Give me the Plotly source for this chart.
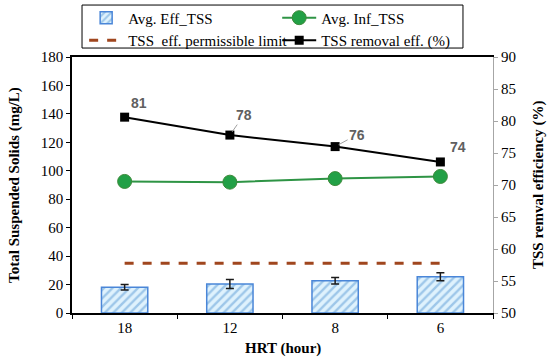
import plotly.graph_objects as go

hrt = ["18", "12", "8", "6"]
eff_tss = [18.1, 20.4, 22.7, 25.5]
eff_err = [1.9, 3.1, 2.3, 2.8]
inf_tss = [92.5, 92.0, 94.5, 96.0]
limit_tss = [35, 35, 35, 35]
removal = [80.6, 77.8, 76.0, 73.6]
removal_labels = ["81", "78", "76", "74"]

serif = "Liberation Serif"
fs = 15

fig = go.Figure()
fig.add_trace(go.Bar(
    x=hrt, y=eff_tss, name="Avg. Eff_TSS", width=0.44, legend="legend",
    marker=dict(color="#dcefff", line=dict(color="#4a86d8", width=1.5),
                pattern=dict(shape="/", fgcolor="#5b9bd5", bgcolor="#dff2fd", size=6, solidity=0.4)),
    error_y=dict(type="data", array=eff_err, color="#1a1a1a", thickness=1.5, width=4),
))
fig.add_trace(go.Scatter(
    x=hrt, y=inf_tss, name="Avg. Inf_TSS", mode="lines+markers", legend="legend2",
    line=dict(color="#2e9445", width=2),
    marker=dict(symbol="circle", size=14, color="#22a046", line=dict(color="#3d8a3a", width=1)),
))
fig.add_trace(go.Scatter(
    x=hrt, y=limit_tss, name="TSS  eff. permissible limit", mode="lines", legend="legend",
    line=dict(color="#a0461e", width=3, dash="dash"),
))
fig.add_trace(go.Scatter(
    x=hrt, y=removal, name="TSS removal eff. (%)", mode="lines+markers", yaxis="y2", legend="legend2",
    line=dict(color="#000000", width=2),
    marker=dict(symbol="square", size=9, color="#000000"),
))

offsets = [(14, -14, False), (14, -20, True), (22, -12, True), (18, -15, False)]
for i, (yv, lab, (dx, dy, arrow)) in enumerate(zip(removal, removal_labels, offsets)):
    if arrow:
        fig.add_annotation(x=i, y=yv, xref="x", yref="y2", text="<b>%s</b>" % lab,
                           showarrow=True, ax=dx, ay=dy, arrowhead=0, arrowwidth=1,
                           arrowcolor="#a0a0a0", standoff=4,
                           font=dict(family="Liberation Sans", size=14, color="#606060"))
    else:
        fig.add_annotation(x=i, y=yv, xref="x", yref="y2", text="<b>%s</b>" % lab,
                           showarrow=False, xshift=dx, yshift=-dy,
                           font=dict(family="Liberation Sans", size=14, color="#606060"))

# axis titles as annotations
title_font = dict(family=serif, size=fs, color="#000000")
fig.add_annotation(text="<b>HRT (hour)</b>", xref="paper", yref="paper", x=0.5, y=-0.137,
                   showarrow=False, font=title_font, xanchor="center", yanchor="middle")
fig.add_annotation(text="<b>Total Suspended Solids (mg/L)</b>", xref="paper", yref="paper",
                   x=-0.138, y=0.5, textangle=-90, showarrow=False, font=title_font,
                   xanchor="center", yanchor="middle")
fig.add_annotation(text="<b>TSS remval efficiency (%)</b>", xref="paper", yref="paper",
                   x=1.107, y=0.5, textangle=-90, showarrow=False, font=title_font,
                   xanchor="center", yanchor="middle")

# legend frame
fig.add_shape(type="rect", xref="paper", yref="paper", x0=0.0238, x1=0.9287, y0=1.035, y1=1.203,
              line=dict(color="#000000", width=1), fillcolor="rgba(0,0,0,0)")

legend_common = dict(orientation="v", yanchor="top", xanchor="left", bgcolor="rgba(0,0,0,0)",
                     xref="container", yref="container",
                     borderwidth=0, font=dict(family=serif, size=fs), tracegroupgap=0, itemwidth=34)

fig.update_layout(
    width=550, height=359,
    margin=dict(l=72, r=57, t=57, b=46, autoexpand=False),
    paper_bgcolor="white", plot_bgcolor="white",
    font=dict(family=serif, size=fs, color="#000000"),
    showlegend=True,
    legend=dict(x=0.153, y=0.996, **legend_common),
    legend2=dict(x=0.504, y=0.996, **legend_common),
    xaxis=dict(
        type="category", range=[-0.5, 3.5],
        showline=True, linecolor="#000000", linewidth=1.5, mirror=True,
        ticks="outside", tickson="boundaries", ticklen=4, tickcolor="#000000",
        showgrid=False, tickfont=dict(family=serif, size=fs),
    ),
    yaxis=dict(
        range=[0, 180], dtick=20,
        showline=True, linecolor="#000000", linewidth=1.5,
        ticks="outside", ticklen=4, tickcolor="#000000",
        showgrid=False, zeroline=False, tickfont=dict(family=serif, size=fs),
    ),
    yaxis2=dict(
        range=[50, 90], dtick=5, overlaying="y", side="right",
        showline=True, linecolor="#a6a6a6", linewidth=1,
        ticks="outside", ticklen=4, tickcolor="#a6a6a6",
        showgrid=False, zeroline=False, tickfont=dict(family=serif, size=fs),
    ),
)

fig.write_html("out.html", config={"displayModeBar": False},
               post_script="document.body.style.margin='0';document.body.style.padding='0';")
